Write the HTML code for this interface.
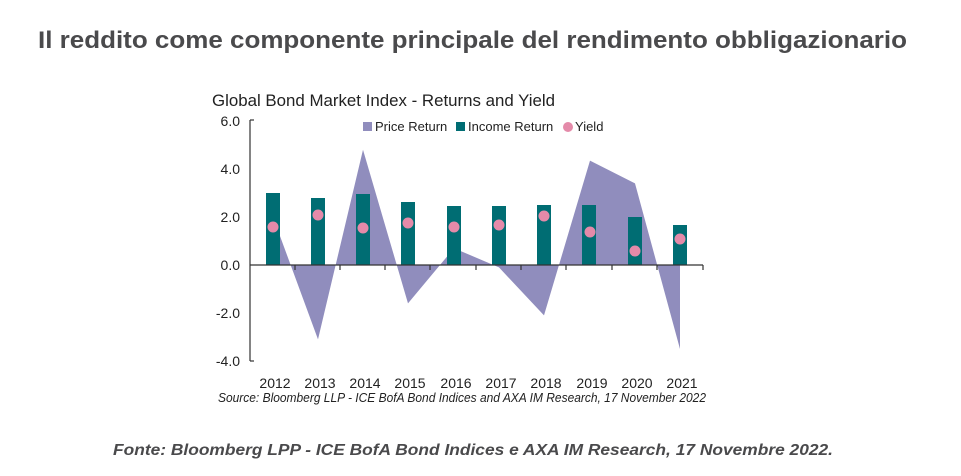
<!DOCTYPE html>
<html><head><meta charset="utf-8"><style>
html,body{margin:0;padding:0;background:#fff;}
svg{display:block;}
</style></head><body>
<svg width="961" height="476" xmlns="http://www.w3.org/2000/svg" font-family="Liberation Sans, sans-serif">
<text x="38" y="48" font-size="24" font-weight="bold" fill="#4a4a4c" textLength="869" lengthAdjust="spacingAndGlyphs">Il reddito come componente principale del rendimento obbligazionario</text>
<text x="212" y="106" font-size="16.5" fill="#222" textLength="343" lengthAdjust="spacingAndGlyphs">Global Bond Market Index - Returns and Yield</text>
<!-- area -->
<polygon fill="#908dbd" points="273,265 273,217 318,339.4 363,149.8 408,303.4 454,248.2 499,267.4 544,315.4 590,160.6 635,183.4 680,349 680,265"/>
<!-- bars -->
<g fill="#006d73">
<rect x="266" y="193" width="14" height="72"/>
<rect x="311" y="198" width="14" height="67"/>
<rect x="356" y="194" width="14" height="71"/>
<rect x="401" y="202" width="14" height="63"/>
<rect x="447" y="206" width="14" height="59"/>
<rect x="492" y="206" width="14" height="59"/>
<rect x="537" y="205" width="14" height="60"/>
<rect x="582" y="205" width="14" height="60"/>
<rect x="628" y="217" width="14" height="48"/>
<rect x="673" y="225" width="14" height="40"/>
</g>
<g fill="#e48aa9">
<circle cx="273" cy="227" r="5.5"/><circle cx="318" cy="215" r="5.5"/><circle cx="363" cy="228" r="5.5"/>
<circle cx="408" cy="223" r="5.5"/><circle cx="454" cy="227" r="5.5"/><circle cx="499" cy="225" r="5.5"/>
<circle cx="544" cy="216" r="5.5"/><circle cx="590" cy="232" r="5.5"/><circle cx="635" cy="251" r="5.5"/>
<circle cx="680" cy="239" r="5.5"/>
</g>
<!-- axes -->
<g stroke="#333" stroke-width="1.2" fill="none">
<line x1="250" y1="120" x2="250" y2="361"/>
<line x1="250" y1="120" x2="254" y2="120"/>
<line x1="250" y1="361" x2="254" y2="361"/>
<line x1="250" y1="265" x2="703" y2="265"/>
<path d="M295,265v5M340,265v5M385,265v5M430,265v5M476,265v5M521,265v5M566,265v5M612,265v5M657,265v5M703,265v5"/>
</g>
<g font-size="14" fill="#222" text-anchor="end">
<text x="240" y="126">6.0</text><text x="240" y="174">4.0</text><text x="240" y="222">2.0</text>
<text x="240" y="270">0.0</text><text x="240" y="318">-2.0</text><text x="240" y="366">-4.0</text>
</g>
<g font-size="14" fill="#222" text-anchor="middle">
<text x="275" y="388">2012</text><text x="320" y="388">2013</text><text x="365" y="388">2014</text>
<text x="410" y="388">2015</text><text x="456" y="388">2016</text><text x="501" y="388">2017</text>
<text x="546" y="388">2018</text><text x="592" y="388">2019</text><text x="637" y="388">2020</text>
<text x="682" y="388">2021</text>
</g>
<!-- legend -->
<rect x="363" y="122" width="9" height="9" fill="#908dbd"/>
<text x="375" y="131" font-size="13" fill="#222">Price Return</text>
<rect x="456" y="122" width="9" height="9" fill="#006d73"/>
<text x="468" y="131" font-size="13" fill="#222">Income Return</text>
<circle cx="568" cy="127" r="5" fill="#e48aa9"/>
<text x="575" y="131" font-size="13" fill="#222">Yield</text>
<text x="218" y="402" font-size="13" font-style="italic" fill="#222" textLength="488" lengthAdjust="spacingAndGlyphs">Source: Bloomberg LLP - ICE BofA Bond Indices and AXA IM Research, 17 November 2022</text>
<text x="113" y="455" font-size="16" font-weight="bold" font-style="italic" fill="#4a4a4c" textLength="720" lengthAdjust="spacingAndGlyphs">Fonte: Bloomberg LPP - ICE BofA Bond Indices e AXA IM Research, 17 Novembre 2022.</text>
</svg>
</body></html>
